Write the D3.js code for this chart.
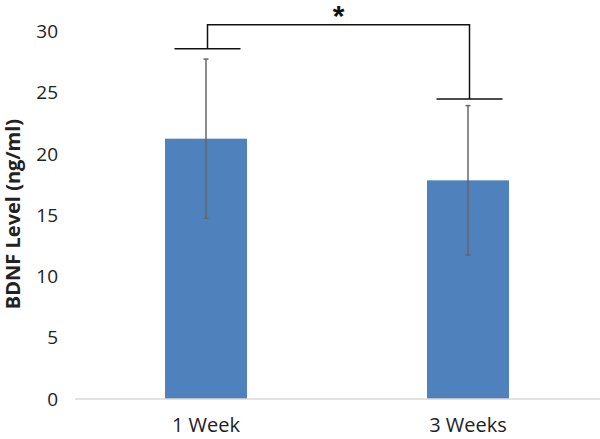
<!DOCTYPE html>
<html>
<head>
<meta charset="utf-8">
<script src="https://cdn.jsdelivr.net/npm/d3@7/dist/d3.min.js"></script>
<style>
html,body{margin:0;padding:0;background:#fff;}
svg{display:block;}
</style>
</head>
<body>
<svg id="chart" width="600" height="439"></svg>
<script>
const categories = ["1 Week", "3 Weeks"];
const means = [21.25, 17.85];
const errors = [6.5, 6.1];
const yTicks = [0, 5, 10, 15, 20, 25, 30];
const bracketLevels = [28.6, 24.5];   // caps above each bar
const bracketTop = 30.55;
const sigLabel = "*";
const yTitle = "BDNF Level (ng/ml)";

const svg = d3.select("#chart");
const x = d3.scaleBand().domain(categories).range([75, 599]).paddingInner(0.687).paddingOuter(0.3435);
const y = d3.scaleLinear().domain([0, 30]).range([399, 31.5]);

// y axis (labels only)
const yAxis = svg.append("g").attr("transform", "translate(58,0)")
  .call(d3.axisLeft(y).tickValues(yTicks).tickSize(0).tickPadding(0));
yAxis.select(".domain").remove();
yAxis.selectAll("text").attr("font-family", "'Open Sans', sans-serif").attr("font-size", 19).attr("fill", "#222");

// bars
svg.append("g").selectAll("rect").data(categories).join("rect")
  .attr("x", d => x(d)).attr("width", x.bandwidth())
  .attr("y", (d, i) => y(means[i])).attr("height", (d, i) => y(0) - y(means[i]))
  .attr("fill", "#4f81bd");

// baseline
svg.append("line").attr("x1", 75).attr("x2", 600).attr("y1", y(0)).attr("y2", y(0))
  .attr("stroke", "#d9d9d9").attr("stroke-width", 1.5);

// x axis labels
const xAxis = svg.append("g").attr("transform", `translate(0,${y(0)})`)
  .call(d3.axisBottom(x).tickSize(0).tickPadding(19));
xAxis.select(".domain").remove();
xAxis.selectAll("text").attr("font-family", "'Open Sans', sans-serif").attr("font-size", 20).attr("fill", "#222");

// error bars
const eb = svg.append("g").attr("stroke", "#666").attr("stroke-width", 1.5);
categories.forEach((c, i) => {
  const cx = x(c) + x.bandwidth() / 2;
  eb.append("line").attr("x1", cx).attr("x2", cx).attr("y1", y(means[i] + errors[i])).attr("y2", y(means[i] - errors[i]));
  [means[i] + errors[i], means[i] - errors[i]].forEach(v => {
    eb.append("line").attr("x1", cx - 2.5).attr("x2", cx + 2.5).attr("y1", y(v)).attr("y2", y(v));
  });
});

// significance bracket
const br = svg.append("g").attr("stroke", "#111").attr("stroke-width", 1.5).attr("fill", "none");
const cxs = categories.map(c => x(c) + x.bandwidth() / 2 + 1.5);
categories.forEach((c, i) => {
  br.append("line").attr("x1", cxs[i] - 33).attr("x2", cxs[i] + 33).attr("y1", y(bracketLevels[i])).attr("y2", y(bracketLevels[i]));
});
br.append("path").attr("d", `M${cxs[0]},${y(bracketLevels[0])}V${y(bracketTop)}H${cxs[1]}V${y(bracketLevels[1])}`);
svg.append("text").attr("x", (cxs[0] + cxs[1]) / 2).attr("y", 25.5).attr("text-anchor", "middle")
  .attr("font-family", "'Liberation Sans', sans-serif").attr("font-weight", "bold").attr("font-size", 30).attr("fill", "#111")
  .text(sigLabel);

// y title
svg.append("text").attr("transform", "translate(20,214) rotate(-90)").attr("text-anchor", "middle")
  .attr("font-family", "'Open Sans', sans-serif").attr("font-weight", "bold").attr("font-size", 20).attr("fill", "#222")
  .text(yTitle);
</script>
</body>
</html>
